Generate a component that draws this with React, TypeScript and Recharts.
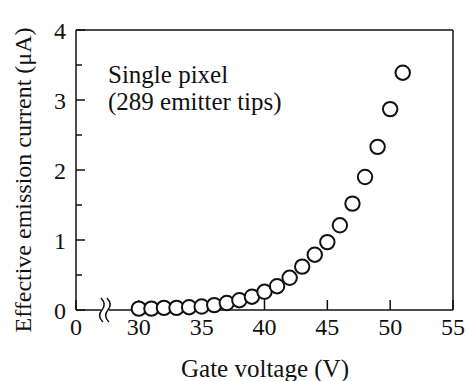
import { ScatterChart, Scatter, XAxis, YAxis, ReferenceDot, Customized } from 'recharts'

const voltage = [30, 31, 32, 33, 34, 35, 36, 37, 38, 39, 40, 41, 42, 43, 44, 45, 46, 47, 48, 49, 50, 51]
const current = [
  0.02, 0.02, 0.03, 0.03, 0.04, 0.05, 0.07, 0.1, 0.14, 0.19, 0.26, 0.34, 0.46, 0.62, 0.79, 0.97, 1.21,
  1.52, 1.9, 2.33, 2.87, 3.39,
]

// axis is broken: zero is drawn where 25 V would sit
const ZERO_AT = 25
const BREAK_AT = 27.3
const xTicks = [ZERO_AT, 30, 35, 40, 45, 50, 55]
const xTopTicks = [30, 35, 40, 45, 50]
const yTicks = [0, 0.5, 1, 1.5, 2, 2.5, 3, 3.5, 4]

const points = voltage.map((v, i) => ({ v, i: current[i] }))

const FONT = '"Liberation Serif", "Times New Roman", serif'
const INK = '#111'
const serif = { fontFamily: FONT }

function LeftTick(props: any) {
  const { x, y, payload } = props
  const major = Number.isInteger(payload.value)
  const len = major ? 9 : 6
  return (
    <g>
      <line x1={x + 10} x2={x + 10 + len} y1={y} y2={y} stroke={INK} strokeWidth={1.5} />
      {major && (
        <text x={x} y={y} dy="0.36em" textAnchor="end" fontSize={24} fill={INK} style={serif}>
          {payload.value}
        </text>
      )}
    </g>
  )
}

function RightTick(props: any) {
  const { x, y, payload } = props
  const len = Number.isInteger(payload.value) ? 9 : 6
  return <line x1={x} x2={x - len} y1={y} y2={y} stroke={INK} strokeWidth={1.5} />
}

function BottomTick(props: any) {
  const { x, y, payload } = props
  return (
    <text x={x} y={y} dy="0.71em" textAnchor="middle" fontSize={24} fill={INK} style={serif}>
      {payload.value === ZERO_AT ? '0' : payload.value}
    </text>
  )
}

function AxisBreak(props: any) {
  const { cx, cy } = props
  const s = (dx: number) =>
    `M ${cx + dx - 1} ${cy - 12} Q ${cx + dx + 5} ${cy - 6} ${cx + dx} ${cy} Q ${cx + dx - 5} ${cy + 6} ${cx + dx + 1} ${cy + 12}`
  return (
    <g>
      <rect x={cx - 4} y={cy - 3} width={8} height={6} fill="#fff" />
      <path d={s(-3)} fill="none" stroke={INK} strokeWidth={1.5} />
      <path d={s(3)} fill="none" stroke={INK} strokeWidth={1.5} />
    </g>
  )
}

function Texts() {
  return (
    <g fill={INK} style={serif}>
      <text x={108} y={83} fontSize={25} style={serif}>Single pixel</text>
      <text x={108} y={110} fontSize={25} style={serif}>(289 emitter tips)</text>
      <text x={265} y={377} fontSize={25} textAnchor="middle" style={serif}>Gate voltage (V)</text>
      <text x={31} y={180} fontSize={24} textAnchor="middle" transform="rotate(-90, 31, 180)" style={serif}>
        Effective emission current (μA)
      </text>
    </g>
  )
}

export default function App() {
  return (
    <div style={{ position: 'absolute', left: 0, top: 0, width: 468, height: 381, background: '#fff', fontFamily: FONT }}>
      <ScatterChart width={468} height={381} margin={{ top: 29, right: 14, bottom: 31, left: 16 }}>
        <XAxis
          xAxisId="b"
          dataKey="v"
          type="number"
          domain={[ZERO_AT, 55]}
          ticks={xTicks}
          allowDataOverflow
          height={40}
          tickSize={-10}
          tickMargin={18}
          tick={BottomTick}
          axisLine={{ stroke: INK, strokeWidth: 1.5 }}
          tickLine={{ stroke: INK, strokeWidth: 1.5 }}
        />
        <XAxis
          xAxisId="t"
          orientation="top"
          dataKey="v"
          type="number"
          domain={[ZERO_AT, 55]}
          ticks={xTopTicks}
          allowDataOverflow
          height={1}
          tickSize={-9}
          tick={false}
          axisLine={{ stroke: INK, strokeWidth: 1.5 }}
          tickLine={{ stroke: INK, strokeWidth: 1.5 }}
        />
        <YAxis
          yAxisId="l"
          dataKey="i"
          type="number"
          domain={[0, 4]}
          ticks={yTicks}
          width={60}
          tickSize={0}
          tickMargin={10}
          tickLine={false}
          tick={LeftTick}
          axisLine={{ stroke: INK, strokeWidth: 1.5 }}
        />
        <YAxis
          yAxisId="r"
          orientation="right"
          dataKey="i"
          type="number"
          domain={[0, 4]}
          ticks={yTicks}
          width={1}
          tickSize={0}
          tickMargin={0}
          tickLine={false}
          tick={RightTick}
          axisLine={{ stroke: INK, strokeWidth: 1.5 }}
        />
        <ReferenceDot xAxisId="b" yAxisId="l" x={BREAK_AT} y={0} r={0} shape={AxisBreak} />
        <Scatter
          xAxisId="b"
          yAxisId="l"
          data={points}
          isAnimationActive={false}
          shape={(p: any) => (
            <circle cx={p.cx} cy={p.cy} r={7.2} fill="#fff" stroke={INK} strokeWidth={2} />
          )}
        />
        <Customized component={Texts} />
      </ScatterChart>
    </div>
  )
}
